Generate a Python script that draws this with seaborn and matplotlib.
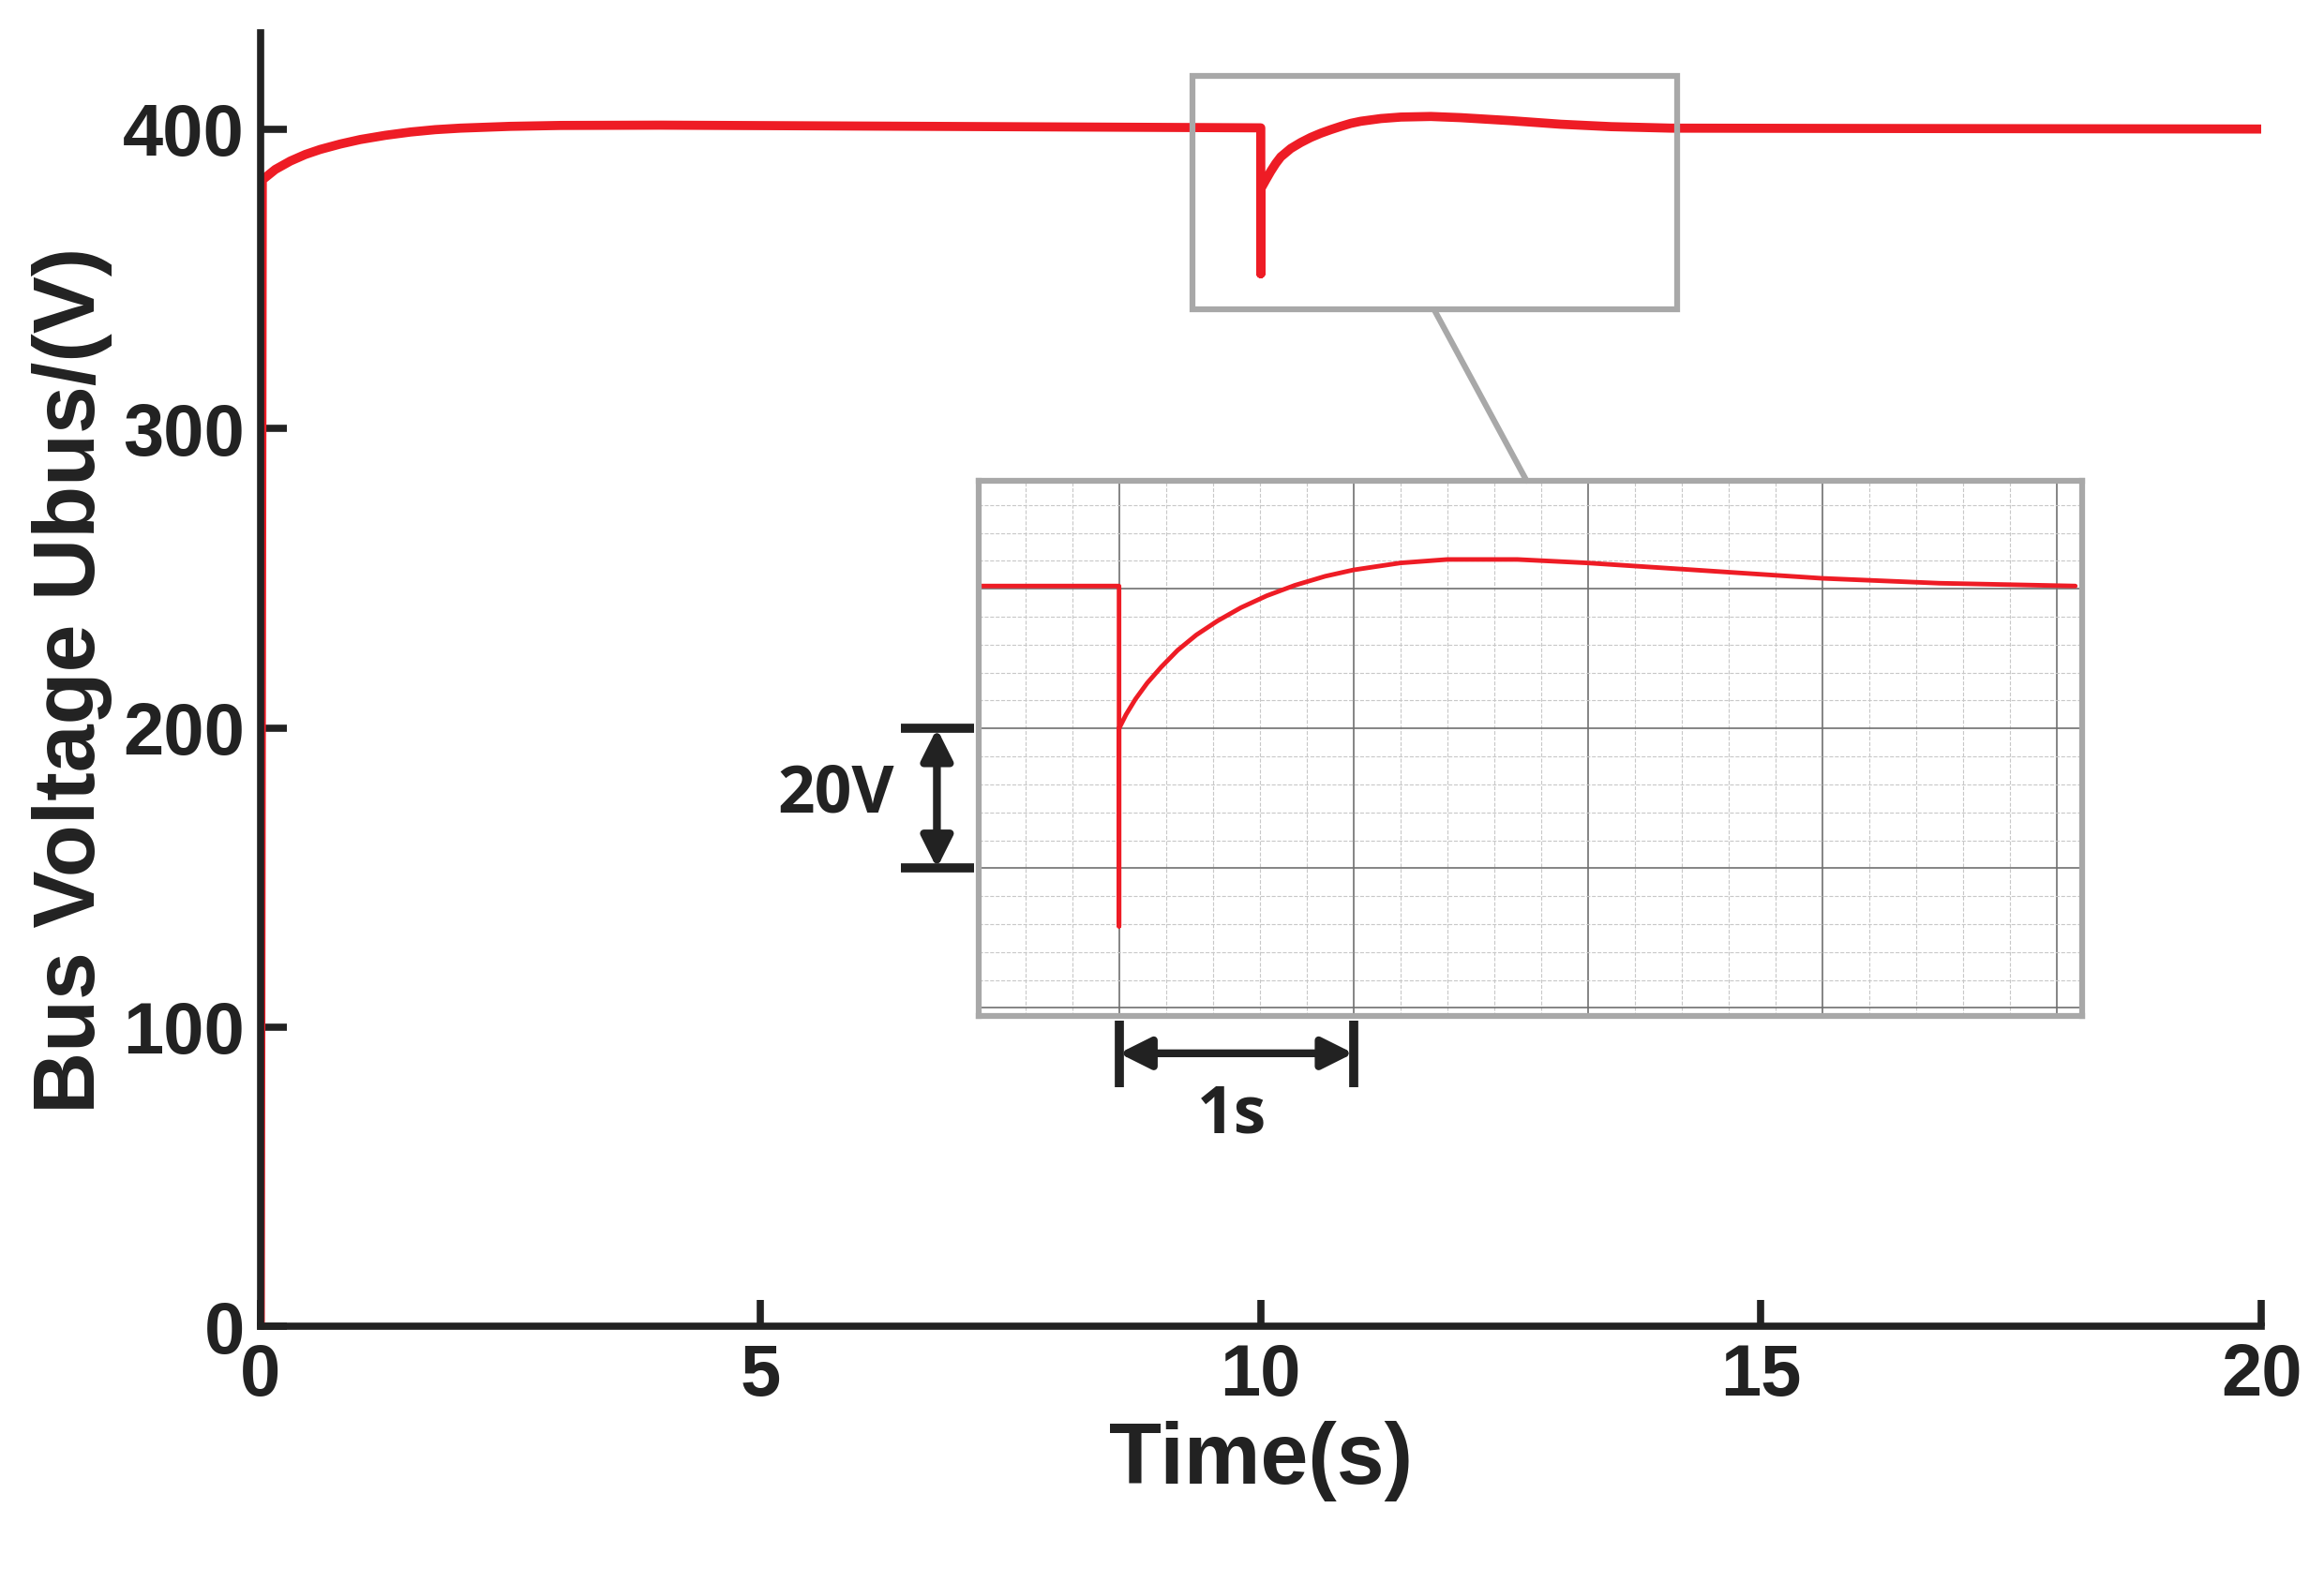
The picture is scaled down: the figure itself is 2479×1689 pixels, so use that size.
import numpy as np
import pandas as pd
import matplotlib
matplotlib.use("Agg")
import matplotlib.pyplot as plt
from matplotlib.lines import Line2D
from matplotlib.ticker import MultipleLocator
import seaborn as sns

# main trace: bus voltage vs time
time_s = [0, 0.02, 0.15, 0.3, 0.45, 0.6, 0.8, 1.0, 1.25, 1.5, 1.75, 2.0, 2.5,
          3.0, 4.0, 6.0, 8.0, 10.0, 10.0, 10.0, 10.05, 10.1, 10.15, 10.2, 10.3,
          10.4, 10.5, 10.6, 10.7, 10.8, 10.9, 11.0, 11.2, 11.4, 11.7, 12.0, 12.5,
          13.0, 13.5, 14.1, 16.0, 20.0]
ubus = [0, 383, 386.5, 389.3, 391.5, 393.2, 395, 396.5, 397.9, 399, 399.8,
        400.3, 400.9, 401.2, 401.3, 401.0, 400.7, 400.4, 351.7, 380, 383, 385.9,
        388.5, 390.7, 393.5, 395.5, 397.2, 398.6, 399.8, 400.9, 401.9, 402.6,
        403.5, 404.0, 404.2, 403.8, 402.8, 401.6, 400.8, 400.3, 400.2, 400.0]

# zoomed trace (time relative to the 10 s disturbance)
zoom_t = [-0.6, 0, 0, 0, 0.03, 0.07, 0.12, 0.18, 0.25, 0.33, 0.42, 0.52, 0.63,
          0.75, 0.88, 1.0, 1.2, 1.4, 1.7, 2.0, 2.5, 3.0, 3.5, 4.08]
zoom_v = [400.4, 400.4, 351.7, 380, 382, 384.2, 386.5, 388.8, 391.2, 393.4,
          395.4, 397.3, 399.0, 400.5, 401.8, 402.7, 403.7, 404.2, 404.2, 403.7,
          402.6, 401.5, 400.8, 400.4]

sns.set_style("white")
plt.rcParams["font.family"] = ["Liberation Sans", "DejaVu Sans"]
red = "#ee1c25"
dark = "#222222"

fig = plt.figure(figsize=(24.79, 16.89), dpi=100)
ax = fig.add_axes([0.112, 0.162, 0.861, 0.817])
main = pd.DataFrame({"t": time_s, "v": ubus})
sns.lineplot(data=main, x="t", y="v", ax=ax, color=red, lw=7,
             sort=False, estimator=None)
ax.set_xlim(0, 20)
ax.set_ylim(0, 432)
ax.set_xticks([0, 5, 10, 15, 20])
ax.set_yticks([0, 100, 200, 300, 400])
for s in ["top", "right"]:
    ax.spines[s].set_visible(False)
for s in ["left", "bottom"]:
    ax.spines[s].set_linewidth(5.5)
    ax.spines[s].set_color(dark)
ax.tick_params(direction="in", length=20, width=5.5, color=dark,
               bottom=True, left=True, labelsize=56, labelcolor=dark, pad=12)
for lab in ax.get_xticklabels() + ax.get_yticklabels():
    lab.set_fontweight("bold")
ax.set_xlabel("Time(s)", fontsize=66, fontweight="bold", color=dark, labelpad=8)
ax.set_ylabel("Bus Voltage Ubus/(V)", fontsize=66, fontweight="bold",
              color=dark, labelpad=8)

# zoom rectangle on main axes
gray = "#a8a8a8"
ax.add_patch(plt.Rectangle((9.32, 339.7), 4.84, 78.1, fill=False,
                           ec=gray, lw=4.5, zorder=5))
fig.add_artist(Line2D([968 / 1568, 1030 / 1568], [1 - 210 / 1070, 1 - 325 / 1070],
                      color=gray, lw=4.5))

# inset
ins = fig.add_axes([0.421, 0.358, 0.475, 0.338])
zoom = pd.DataFrame({"t": zoom_t, "v": zoom_v})
sns.lineplot(data=zoom, x="t", y="v", ax=ins, color=red, lw=3.5,
             sort=False, estimator=None)
ins.set_xlim(-0.6, 4.11)
ins.set_ylim(338.8, 415.4)
ins.xaxis.set_major_locator(MultipleLocator(1))
ins.xaxis.set_minor_locator(MultipleLocator(0.2))
ins.yaxis.set_major_locator(MultipleLocator(20))
ins.yaxis.set_minor_locator(MultipleLocator(4))
ins.grid(which="major", color="#707070", lw=1.2)
ins.grid(which="minor", color="#c8c8c8", lw=0.8, ls="--")
ins.tick_params(which="both", length=0, labelbottom=False, labelleft=False)
ins.set_xlabel("")
ins.set_ylabel("")
for s in ins.spines.values():
    s.set_color(gray)
    s.set_linewidth(4.5)

# scale markers
kw = dict(color=dark, lw=7, clip_on=False, solid_capstyle="butt")
ins.plot([-0.93, -0.62], [380, 380], **kw)
ins.plot([-0.93, -0.62], [360, 360], **kw)
ins.annotate("", xy=(-0.777, 380), xytext=(-0.777, 360),
             arrowprops=dict(arrowstyle="<|-|>", color=dark, lw=6,
                             mutation_scale=50, shrinkA=0, shrinkB=0),
             annotation_clip=False)
ins.text(-0.96, 370.5, "20V", ha="right", va="center", fontsize=50,
         fontweight="bold", color=dark, family=["Open Sans", "DejaVu Sans"])
ins.plot([0, 0], [338.2, 328.7], **kw)
ins.plot([1, 1], [338.2, 328.7], **kw)
ins.annotate("", xy=(0, 333.5), xytext=(1, 333.5),
             arrowprops=dict(arrowstyle="<|-|>", color=dark, lw=6,
                             mutation_scale=50, shrinkA=0, shrinkB=0),
             annotation_clip=False)
ins.text(0.48, 324.5, "1s", ha="center", va="center", fontsize=50,
         fontweight="bold", color=dark, family=["Open Sans", "DejaVu Sans"])

fig.savefig("out.png", dpi=100)
